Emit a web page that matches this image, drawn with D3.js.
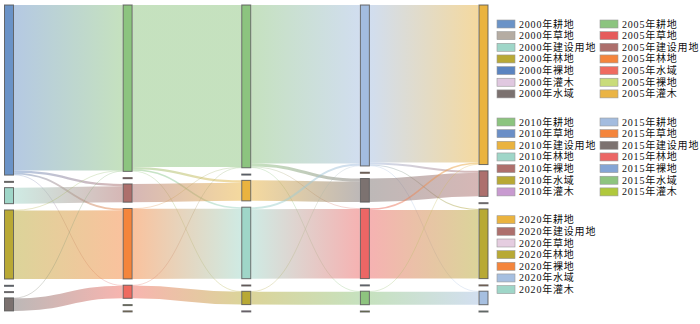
<!DOCTYPE html>
<html><head><meta charset="utf-8">
<script src="https://cdn.jsdelivr.net/npm/d3@7"></script>
<style>
html,body{margin:0;padding:0;background:#fff;}
svg{display:block;}
text{font-family:"Liberation Serif","Times New Roman","Noto Sans CJK SC",serif;}
</style></head>
<body><svg id="chart" width="700" height="324"></svg>
<script>
// ---- data ----
const years = ["2000", "2005", "2010", "2015", "2020"];
const classes2000 = ["耕地", "草地", "建设用地", "林地", "裸地", "灌木", "水域"];
const classes2005 = ["耕地", "草地", "建设用地", "林地", "水域", "裸地", "灌木"];
const classes2010 = ["耕地", "草地", "建设用地", "林地", "裸地", "水域", "灌木"];
const classes2015 = ["耕地", "草地", "建设用地", "林地", "裸地", "水域", "灌木"];
const classes2020 = ["耕地", "建设用地", "草地", "林地", "裸地", "水域", "灌木"];

const colors2000 = ["#6b93c7", "#b5aca2", "#9fd6c8", "#b9a935", "#5b84c0", "#e0c8e0", "#7b716f"];
const colors2005 = ["#8cc47f", "#e55b5b", "#ad6f6c", "#f4853c", "#ef6b60", "#c9dc7a", "#eab445"];
const colors2010 = ["#8cc47f", "#6b8fc7", "#eab33f", "#9fd6c8", "#ae6f6c", "#b8a935", "#c89ad0"];
const colors2015 = ["#a3bcdf", "#f4853c", "#7c7270", "#ec6665", "#85a5d5", "#8ec47f", "#b0c83c"];
const colors2020 = ["#eab33f", "#ad706d", "#e5cde0", "#b8a935", "#f4853c", "#a6bfe0", "#9fd6c8"];

// flows [from class, to class, value]
const flows2000to2005 = [
  ["耕地", "耕地", 165.4], ["耕地", "建设用地", 2.2], ["耕地", "林地", 1.9], ["耕地", "水域", 0.5],
  ["建设用地", "建设用地", 16],
  ["林地", "耕地", 0.5], ["林地", "林地", 68.5],
  ["水域", "耕地", 0.4], ["水域", "水域", 12.6]
];
const flows2005to2010 = [
  ["耕地", "耕地", 162.0], ["耕地", "建设用地", 2.3], ["耕地", "林地", 1.5], ["耕地", "水域", 0.5],
  ["建设用地", "建设用地", 18.2],
  ["林地", "耕地", 0.4], ["林地", "林地", 70.0],
  ["水域", "耕地", 0.3], ["水域", "水域", 12.8]
];
const flows2010to2015 = [
  ["耕地", "耕地", 158.5], ["耕地", "建设用地", 3.0], ["耕地", "林地", 0.6], ["耕地", "水域", 0.6],
  ["建设用地", "建设用地", 20.5],
  ["林地", "耕地", 2.0], ["林地", "林地", 69.5],
  ["水域", "耕地", 0.4], ["水域", "水域", 12.9]
];
const flows2015to2020 = [
  ["耕地", "耕地", 157.4], ["耕地", "建设用地", 2.0], ["耕地", "林地", 1.0], ["耕地", "水域", 0.5],
  ["建设用地", "建设用地", 23.5],
  ["林地", "耕地", 1.6], ["林地", "林地", 68.6],
  ["水域", "耕地", 0.5], ["水域", "水域", 13.0]
];

const classLists = [classes2000, classes2005, classes2010, classes2015, classes2020];
const colorLists = [colors2000, colors2005, colors2010, colors2015, colors2020];
const flowLists = [flows2000to2005, flows2005to2010, flows2010to2015, flows2015to2020];

// ---- build graph ----
const nodes = [];
const nodeIndex = {};
classLists.forEach((cls, c) => {
  cls.forEach((name, i) => {
    const n = {id: years[c] + "年" + name, year: years[c], name, col: c, order: i,
               color: colorLists[c][i], sourceLinks: [], targetLinks: []};
    nodes.push(n); nodeIndex[n.id] = n;
  });
});
const links = [];
flowLists.forEach((fl, c) => {
  fl.forEach(([a, b, v]) => {
    const s = nodeIndex[years[c] + "年" + a], t = nodeIndex[years[c + 1] + "年" + b];
    const l = {source: s, target: t, value: v};
    s.sourceLinks.push(l); t.targetLinks.push(l); links.push(l);
  });
});
nodes.forEach(n => {
  n.value = Math.max(d3.sum(n.sourceLinks, l => l.value), d3.sum(n.targetLinks, l => l.value));
});

// ---- layout ----
const svg = d3.select("#chart");
const nodeWidth = 10, nodePadding = 6.3;
const y0 = 5, y1 = 311;
const xScale = d3.scaleLinear().domain([0, years.length - 1]).range([4, 478.5]);
const columns = d3.groups(nodes, d => d.col).map(d => d[1]);
const maxSum = d3.max(columns, col => d3.sum(col, n => n.value));
const maxCount = d3.max(columns, col => col.length);
const hScale = d3.scaleLinear().domain([0, maxSum]).range([0, (y1 - y0) - nodePadding * (maxCount - 1)]);

columns.forEach(col => {
  let y = y0;
  col.sort((a, b) => a.order - b.order).forEach(n => {
    n.x0 = xScale(n.col); n.x1 = n.x0 + nodeWidth;
    n.y0 = y; n.y1 = y + hScale(n.value);
    y = n.y1 + nodePadding;
  });
});
links.forEach(l => l.width = hScale(l.value));
nodes.forEach(n => {
  n.sourceLinks.sort((a, b) => a.target.y0 - b.target.y0);
  n.targetLinks.sort((a, b) => a.source.y0 - b.source.y0);
  let ys = n.y0;
  n.sourceLinks.forEach(l => { l.y0 = ys + l.width / 2; ys += l.width; });
  let yt = n.y0;
  n.targetLinks.forEach(l => { l.y1 = yt + l.width / 2; yt += l.width; });
});

// ---- links ----
const defs = svg.append("defs");
links.forEach((l, i) => {
  const g = defs.append("linearGradient").attr("id", "lg" + i)
    .attr("gradientUnits", "userSpaceOnUse")
    .attr("x1", l.source.x1).attr("x2", l.target.x0);
  g.append("stop").attr("offset", "0%").attr("stop-color", l.source.color);
  g.append("stop").attr("offset", "100%").attr("stop-color", l.target.color);
});
const linkGen = d3.linkHorizontal().source(d => [d.source.x1, d.y0]).target(d => [d.target.x0, d.y1]);
svg.append("g").attr("fill", "none").attr("stroke-opacity", 0.5)
  .selectAll("path").data(links).join("path")
  .attr("d", linkGen)
  .attr("stroke", (d, i) => `url(#lg${i})`)
  .attr("stroke-width", d => Math.max(d.width, 0.6));

// ---- nodes ----
svg.append("g").selectAll("rect").data(nodes).join("rect")
  .attr("x", d => d.x0 + 0.5).attr("y", d => d.y0)
  .attr("width", nodeWidth - 1).attr("height", d => Math.max(d.y1 - d.y0, 1))
  .attr("fill", d => d.color)
  .attr("stroke", "#555").attr("stroke-opacity", 0.85).attr("stroke-width", 1);

// ---- legend ----
const legendGroups = [
  {col: 0, x: 497, yStart: 24}, {col: 1, x: 600, yStart: 24},
  {col: 2, x: 497, yStart: 122}, {col: 3, x: 600, yStart: 122},
  {col: 4, x: 497, yStart: 219.7}
];
const rowStep = 11.65;
const lg = svg.append("g");
legendGroups.forEach(gp => {
  classLists[gp.col].forEach((name, i) => {
    const cy = gp.yStart + i * rowStep;
    lg.append("rect").attr("x", gp.x).attr("y", cy - 4).attr("width", 18).attr("height", 8)
      .attr("fill", colorLists[gp.col][i]).attr("stroke", "#999").attr("stroke-width", 0.6);
    lg.append("text").attr("x", gp.x + 22).attr("y", cy).attr("dy", "0.35em")
      .attr("font-size", 10).attr("fill", "#111").attr("letter-spacing", "0.8px")
      .text(years[gp.col] + "年" + name);
  });
});
</script></body></html>
